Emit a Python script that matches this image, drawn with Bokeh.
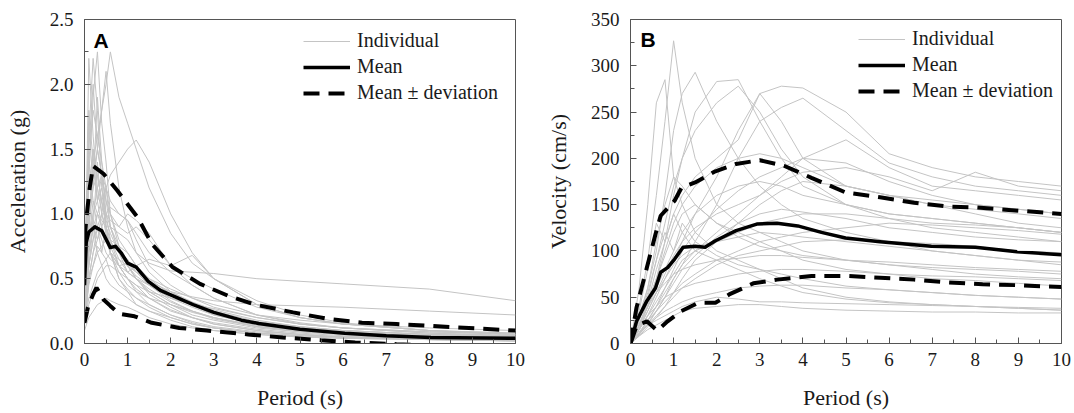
from bokeh.plotting import figure
from bokeh.layouts import row
from bokeh.models import Range1d, FixedTicker, Legend, LegendItem, Label, PrintfTickFormatter
from bokeh.embed import file_html
from bokeh.resources import INLINE

# ---------------- Panel A data (acceleration, g) ----------------
T_A = [0, 0.05, 0.1, 0.2, 0.3, 0.4, 0.5, 0.6, 0.8, 1.0, 1.2, 1.5, 2.0, 2.5, 3.0, 4.0, 5.0, 6.0, 8.0, 10.0]
indiv_A = [
    [0.40, 0.60, 0.90, 1.20, 1.50, 1.80, 2.00, 2.25, 1.90, 1.70, 1.50, 1.20, 0.85, 0.62, 0.50, 0.33, 0.22, 0.16, 0.10, 0.07],
    [0.30, 0.45, 0.70, 0.90, 1.00, 0.95, 0.90, 0.90, 0.85, 0.80, 0.70, 0.62, 0.56, 0.55, 0.54, 0.50, 0.48, 0.46, 0.42, 0.33],
    [0.25, 0.40, 0.60, 0.80, 0.90, 0.80, 0.70, 0.65, 0.60, 0.55, 0.50, 0.45, 0.40, 0.36, 0.33, 0.30, 0.29, 0.28, 0.25, 0.22],
    [0.50, 1.20, 2.20, 1.60, 1.20, 1.00, 0.90, 0.70, 0.50, 0.40, 0.30, 0.25, 0.18, 0.13, 0.10, 0.07, 0.05, 0.04, 0.03, 0.02],
    [0.45, 0.80, 1.30, 1.90, 2.25, 1.70, 1.40, 1.00, 0.75, 0.60, 0.50, 0.38, 0.28, 0.20, 0.15, 0.10, 0.07, 0.05, 0.04, 0.03],
    [0.35, 0.60, 0.90, 1.40, 1.60, 1.80, 2.10, 1.70, 1.20, 0.90, 0.70, 0.55, 0.40, 0.30, 0.22, 0.15, 0.10, 0.08, 0.05, 0.04],
    [0.30, 0.40, 0.60, 0.80, 1.00, 1.10, 1.20, 1.30, 1.40, 1.50, 1.57, 1.40, 1.00, 0.70, 0.50, 0.30, 0.20, 0.15, 0.10, 0.07],
    [0.20, 0.30, 0.50, 0.70, 0.80, 0.90, 1.00, 1.05, 1.00, 0.95, 0.85, 0.70, 0.55, 0.45, 0.35, 0.22, 0.15, 0.12, 0.08, 0.06],
    [0.60, 1.00, 1.50, 2.00, 1.50, 1.30, 1.10, 0.90, 0.70, 0.60, 0.50, 0.40, 0.30, 0.22, 0.18, 0.12, 0.09, 0.07, 0.05, 0.04],
    [0.15, 0.20, 0.30, 0.40, 0.50, 0.55, 0.60, 0.60, 0.55, 0.50, 0.45, 0.40, 0.35, 0.30, 0.27, 0.20, 0.15, 0.12, 0.09, 0.07],
    [0.40, 0.70, 1.00, 1.20, 1.30, 1.10, 0.90, 0.80, 0.65, 0.55, 0.60, 0.65, 0.60, 0.68, 0.50, 0.30, 0.20, 0.15, 0.10, 0.08],
    [0.30, 0.50, 0.80, 1.10, 1.00, 0.90, 0.80, 0.70, 0.60, 0.50, 0.40, 0.30, 0.22, 0.16, 0.12, 0.08, 0.06, 0.05, 0.03, 0.02],
    [0.20, 0.35, 0.50, 0.70, 0.90, 1.00, 1.00, 0.90, 0.75, 0.60, 0.50, 0.40, 0.30, 0.25, 0.20, 0.13, 0.10, 0.08, 0.06, 0.05],
    [0.50, 0.90, 1.40, 1.80, 1.60, 1.40, 1.20, 1.00, 0.80, 0.70, 0.60, 0.45, 0.33, 0.25, 0.19, 0.13, 0.09, 0.07, 0.05, 0.04],
    [0.10, 0.15, 0.20, 0.25, 0.30, 0.32, 0.35, 0.33, 0.30, 0.28, 0.25, 0.20, 0.15, 0.12, 0.10, 0.07, 0.05, 0.04, 0.03, 0.02],
    [0.35, 0.60, 0.90, 1.30, 1.50, 1.30, 1.10, 1.00, 0.90, 0.85, 0.90, 0.80, 0.60, 0.45, 0.35, 0.22, 0.16, 0.12, 0.08, 0.06],
    [0.25, 0.45, 0.70, 0.90, 0.70, 0.60, 0.50, 0.45, 0.40, 0.35, 0.30, 0.25, 0.20, 0.15, 0.12, 0.08, 0.06, 0.05, 0.04, 0.03],
    [0.55, 1.10, 1.80, 1.40, 1.10, 0.90, 0.80, 0.70, 0.55, 0.45, 0.40, 0.35, 0.30, 0.24, 0.20, 0.14, 0.10, 0.08, 0.06, 0.05],
    [0.30, 0.50, 0.75, 1.00, 1.20, 1.30, 1.20, 1.10, 1.00, 0.95, 0.80, 0.60, 0.45, 0.35, 0.28, 0.20, 0.15, 0.12, 0.09, 0.07],
    [0.20, 0.30, 0.45, 0.60, 0.70, 0.75, 0.80, 0.78, 0.70, 0.65, 0.55, 0.50, 0.42, 0.35, 0.30, 0.22, 0.18, 0.15, 0.12, 0.10],
    [0.40, 0.90, 1.60, 2.20, 1.80, 1.20, 0.90, 0.75, 0.60, 0.50, 0.42, 0.35, 0.26, 0.20, 0.16, 0.11, 0.08, 0.06, 0.04, 0.03],
    [0.30, 0.50, 0.80, 1.00, 1.10, 1.20, 1.00, 0.95, 0.90, 1.00, 0.95, 0.85, 0.60, 0.50, 0.42, 0.28, 0.20, 0.15, 0.10, 0.08],
    [0.18, 0.25, 0.35, 0.45, 0.55, 0.60, 0.65, 0.70, 0.65, 0.60, 0.55, 0.48, 0.40, 0.32, 0.26, 0.18, 0.13, 0.10, 0.07, 0.05],
    [0.50, 0.80, 1.20, 1.50, 1.30, 1.10, 0.95, 0.85, 0.70, 0.60, 0.52, 0.45, 0.35, 0.28, 0.22, 0.15, 0.11, 0.09, 0.06, 0.05],
    [0.35, 0.90, 1.70, 1.20, 1.90, 1.40, 1.00, 0.80, 0.60, 0.50, 0.45, 0.35, 0.25, 0.20, 0.15, 0.10, 0.07, 0.05, 0.04, 0.03],
    [0.25, 0.50, 0.90, 1.50, 1.10, 1.30, 0.90, 0.70, 0.50, 0.42, 0.35, 0.30, 0.22, 0.17, 0.13, 0.09, 0.07, 0.05, 0.04, 0.03],
    [0.30, 0.70, 1.10, 0.90, 1.40, 1.00, 1.20, 0.90, 0.70, 0.55, 0.50, 0.42, 0.32, 0.25, 0.20, 0.13, 0.10, 0.08, 0.05, 0.04],
    [0.20, 0.40, 0.60, 0.90, 0.80, 1.00, 0.85, 0.70, 0.60, 0.62, 0.55, 0.45, 0.35, 0.30, 0.24, 0.16, 0.12, 0.10, 0.07, 0.05],
    [0.45, 1.00, 1.40, 1.10, 0.90, 0.70, 0.65, 0.55, 0.45, 0.40, 0.35, 0.28, 0.20, 0.15, 0.12, 0.08, 0.06, 0.05, 0.03, 0.02],
    [0.15, 0.30, 0.50, 0.60, 0.75, 0.70, 0.90, 0.80, 0.75, 0.70, 0.60, 0.50, 0.38, 0.30, 0.25, 0.17, 0.13, 0.10, 0.07, 0.06],
]
mean_A_T = [0, 0.04, 0.1, 0.24, 0.4, 0.6, 0.72, 0.85, 1.0, 1.2, 1.48, 1.76, 2.04, 2.52, 3.0, 3.64, 4.04, 5.0, 6.04, 7.0, 8.04, 10.0]
mean_A = [0.45, 0.78, 0.86, 0.90, 0.87, 0.74, 0.75, 0.70, 0.62, 0.59, 0.48, 0.41, 0.37, 0.30, 0.24, 0.18, 0.155, 0.11, 0.08, 0.06, 0.046, 0.04]
upper_A_T = [0, 0.04, 0.12, 0.2, 0.44, 0.76, 1.24, 1.56, 2.04, 2.68, 3.32, 3.96, 4.84, 5.64, 6.44, 7.24, 8.04, 10.0]
upper_A = [0.80, 0.95, 1.20, 1.37, 1.31, 1.18, 0.97, 0.77, 0.59, 0.46, 0.37, 0.30, 0.24, 0.19, 0.16, 0.15, 0.136, 0.10]
lower_A_T = [0, 0.08, 0.2, 0.28, 0.44, 0.6, 0.8, 1.16, 1.56, 2.2, 2.84, 3.8, 4.6, 5.48, 6.28, 7.24, 8.5, 10.0]
lower_A = [0.16, 0.28, 0.38, 0.43, 0.34, 0.29, 0.23, 0.21, 0.16, 0.12, 0.10, 0.07, 0.046, 0.026, 0.008, -0.005, -0.02, -0.03]

# ---------------- Panel B data (velocity, cm/s) ----------------
T_B = [0, 0.2, 0.4, 0.6, 0.8, 1.0, 1.2, 1.5, 2.0, 2.5, 3.0, 3.5, 4.0, 5.0, 6.0, 7.0, 8.0, 9.0, 10.0]
indiv_B = [
    [0, 40, 90, 160, 240, 327, 260, 200, 150, 130, 120, 110, 100, 90, 85, 80, 75, 72, 70],
    [0, 60, 150, 260, 285, 180, 150, 120, 100, 90, 80, 70, 60, 50, 45, 42, 40, 38, 36],
    [0, 30, 60, 100, 160, 230, 270, 293, 240, 200, 170, 150, 135, 120, 110, 100, 95, 90, 85],
    [0, 20, 40, 70, 110, 160, 200, 250, 283, 285, 240, 200, 170, 150, 140, 135, 130, 125, 120],
    [0, 15, 30, 50, 70, 90, 110, 140, 180, 230, 270, 278, 276, 250, 205, 190, 180, 175, 170],
    [0, 10, 20, 35, 50, 70, 85, 110, 150, 200, 240, 255, 265, 230, 195, 180, 170, 165, 160],
    [0, 25, 55, 90, 130, 170, 200, 230, 260, 278, 250, 210, 180, 150, 135, 125, 120, 115, 110],
    [0, 20, 45, 80, 110, 140, 160, 180, 200, 220, 270, 240, 200, 170, 160, 150, 145, 140, 135],
    [0, 15, 35, 55, 75, 95, 110, 125, 140, 150, 160, 180, 200, 220, 190, 170, 165, 160, 155],
    [0, 10, 25, 40, 55, 70, 85, 100, 120, 140, 160, 175, 185, 190, 180, 165, 185, 170, 165],
    [0, 20, 40, 60, 80, 100, 120, 140, 160, 170, 175, 170, 160, 150, 140, 135, 130, 125, 120],
    [0, 15, 30, 45, 60, 75, 90, 100, 110, 120, 130, 135, 140, 140, 135, 130, 128, 125, 120],
    [0, 12, 25, 35, 45, 55, 65, 75, 90, 100, 110, 115, 120, 125, 130, 128, 125, 122, 118],
    [0, 10, 20, 30, 40, 50, 60, 70, 85, 95, 100, 105, 110, 112, 110, 108, 105, 100, 98],
    [0, 20, 40, 55, 65, 75, 80, 85, 90, 92, 95, 95, 93, 90, 88, 85, 82, 80, 78],
    [0, 15, 30, 40, 50, 55, 60, 65, 70, 75, 78, 80, 80, 78, 75, 73, 72, 70, 68],
    [0, 10, 20, 28, 35, 40, 45, 50, 55, 60, 62, 63, 63, 60, 58, 55, 52, 50, 48],
    [0, 8, 15, 20, 25, 30, 35, 38, 40, 42, 42, 40, 38, 36, 35, 34, 34, 33, 33],
    [0, 12, 20, 25, 30, 35, 40, 45, 50, 48, 45, 45, 44, 43, 42, 41, 40, 39, 38],
    [0, 20, 45, 70, 100, 130, 150, 170, 190, 200, 205, 200, 190, 170, 160, 155, 150, 145, 140],
    [0, 10, 25, 40, 60, 80, 100, 120, 145, 165, 180, 190, 200, 195, 175, 160, 150, 145, 140],
    [0, 18, 35, 55, 70, 85, 95, 105, 110, 115, 120, 118, 115, 110, 105, 100, 95, 90, 88],
    [0, 8, 18, 28, 40, 55, 70, 90, 110, 130, 150, 165, 175, 170, 160, 150, 140, 130, 125],
    [0, 25, 60, 110, 150, 180, 170, 150, 130, 120, 110, 100, 90, 80, 75, 70, 68, 65, 62],
    [0, 35, 80, 130, 110, 140, 120, 100, 90, 80, 70, 62, 55, 48, 44, 42, 40, 38, 36],
    [0, 25, 50, 90, 120, 100, 130, 110, 95, 85, 80, 75, 70, 62, 58, 55, 52, 50, 48],
    [0, 15, 40, 70, 95, 120, 140, 150, 130, 115, 105, 100, 95, 90, 85, 82, 80, 78, 75],
    [0, 10, 22, 35, 50, 65, 80, 95, 115, 130, 140, 145, 142, 135, 125, 120, 115, 112, 110],
]
mean_B_T = [0, 0.14, 0.38, 0.58, 0.7, 0.86, 1.02, 1.22, 1.5, 1.73, 1.97, 2.45, 2.93, 3.4, 3.88, 4.43, 4.99, 5.79, 6.98, 8.0, 8.97, 10.0]
mean_B = [0, 24, 46, 60, 77, 82, 91, 104, 105, 104, 111, 122, 129, 130, 127, 120, 114, 110, 105, 104, 99, 96]
upper_B_T = [0, 0.14, 0.38, 0.58, 0.7, 1.02, 1.18, 1.5, 1.97, 2.45, 3.0, 3.56, 4.2, 5.0, 5.79, 6.58, 7.38, 8.0, 8.57, 10.0]
upper_B = [0, 39, 82, 118, 138, 154, 168, 174, 186, 194, 198, 192, 179, 163, 158, 152, 148, 147, 145, 140]
lower_B_T = [0, 0.14, 0.38, 0.62, 0.86, 1.18, 1.57, 1.97, 2.29, 2.85, 3.4, 4.2, 5.0, 5.79, 6.58, 7.38, 8.17, 8.97, 10.0]
lower_B = [0, 19, 24, 14, 24, 35, 44, 44, 53, 65, 69, 73, 73, 71, 69, 66, 64, 63, 61]

x_ticks = [0, 1, 2, 3, 4, 5, 6, 7, 8, 9, 10]
x_minor = [0.5 + i for i in range(10)]
yA_ticks = [0, 0.5, 1.0, 1.5, 2.0, 2.5]
yA_minor = [0.25, 0.75, 1.25, 1.75, 2.25]
yB_ticks = [0, 50, 100, 150, 200, 250, 300, 350]
yB_minor = [25, 75, 125, 175, 225, 275, 325]

SERIF = "Liberation Serif"
GRAY = "#c4c4c4"
AXIS = "#555555"


def make_panel(letter, ylabel, yr, yticks, yminor, yfmt, T, indiv, mT, m, uT, u, lT, l,
               border_left, border_right, letter_xy, legend_loc):
    p = figure(width=537, height=413, output_backend="svg", toolbar_location=None,
               x_range=Range1d(0, 10), y_range=Range1d(*yr),
               min_border_left=border_left, min_border_right=border_right,
               min_border_top=19, min_border_bottom=70)
    p.background_fill_color = "white"
    p.border_fill_color = "white"
    p.outline_line_color = AXIS
    p.outline_line_width = 1
    p.grid.visible = False

    r_ind = p.multi_line(xs=[T] * len(indiv), ys=indiv, line_color=GRAY, line_width=1)
    r_mean = p.line(mT, m, line_color="black", line_width=3.5, line_join="round")
    r_up = p.line(uT, u, line_color="black", line_width=4, line_dash="16 9")
    p.line(lT, l, line_color="black", line_width=4, line_dash="16 9")

    p.xaxis.ticker = FixedTicker(ticks=x_ticks, minor_ticks=x_minor)
    p.yaxis.ticker = FixedTicker(ticks=yticks, minor_ticks=yminor)
    p.yaxis.formatter = PrintfTickFormatter(format=yfmt)
    for ax in (p.xaxis[0], p.yaxis[0]):
        ax.axis_line_color = AXIS
        ax.major_tick_line_color = AXIS
        ax.minor_tick_line_color = AXIS
        ax.major_tick_in = 6
        ax.major_tick_out = 0
        ax.minor_tick_in = 4
        ax.minor_tick_out = 0
        ax.major_label_text_font = SERIF
        ax.major_label_text_font_size = "19px"
        ax.major_label_text_color = "#1a1a1a"
        ax.axis_label_text_font = SERIF
        ax.axis_label_text_font_size = "22px"
        ax.axis_label_text_font_style = "normal"
        ax.axis_label_text_color = "#1a1a1a"
    p.xaxis.axis_label = "Period (s)"
    p.xaxis.major_label_standoff = 9
    p.xaxis.axis_label_standoff = 16
    p.yaxis.axis_label = ylabel
    p.yaxis.major_label_standoff = 11
    p.yaxis.axis_label_standoff = 17

    p.add_layout(Label(x=letter_xy[0], y=letter_xy[1], text=letter, text_font="Liberation Sans",
                       text_font_style="bold", text_font_size="21px", text_color="black",
                       text_baseline="alphabetic"))

    legend = Legend(items=[LegendItem(label="Individual", renderers=[r_ind]),
                           LegendItem(label="Mean", renderers=[r_mean]),
                           LegendItem(label="Mean \u00b1 deviation", renderers=[r_up])],
                    location=legend_loc, border_line_alpha=0, background_fill_alpha=0,
                    label_text_font=SERIF, label_text_font_size="20px", label_text_color="#1a1a1a",
                    glyph_width=47, glyph_height=20, label_height=20, label_standoff=7,
                    spacing=3, padding=0, margin=0)
    p.add_layout(legend)
    return p


pA = make_panel("A", "Acceleration (g)", (0, 2.5), yA_ticks, yA_minor, "%.1f",
                T_A, indiv_A, mean_A_T, mean_A, upper_A_T, upper_A, lower_A_T, lower_A,
                84, 22, (0.21, 2.34), (219, 239))
pB = make_panel("B", "Velocity (cm/s)", (0, 350), yB_ticks, yB_minor, "%d",
                T_B, indiv_B, mean_B_T, mean_B, upper_B_T, upper_B, lower_B_T, lower_B,
                93, 13, (0.23, 328), (228, 241))

layout = row(pA, pB)
open("out.html", "w").write(file_html(layout, INLINE))
